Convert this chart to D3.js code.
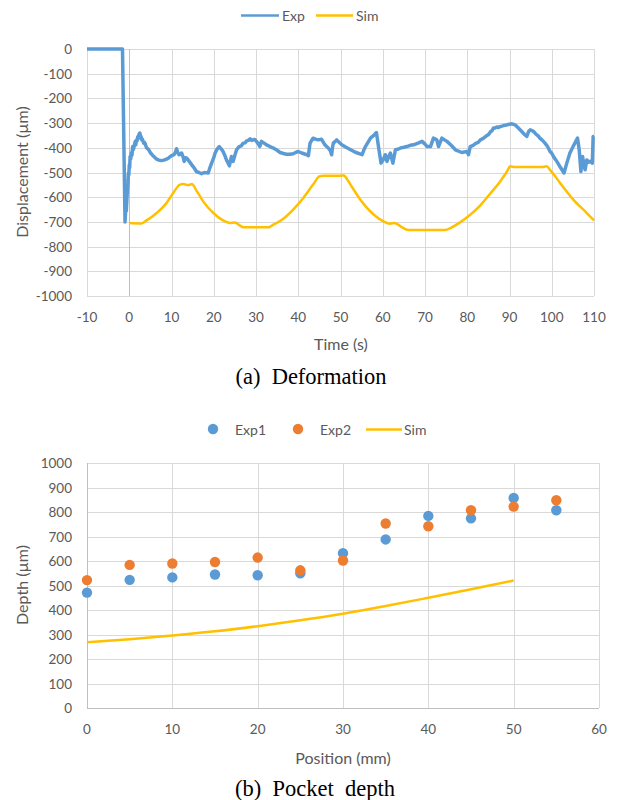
<!DOCTYPE html>
<html>
<head>
<meta charset="utf-8">
<script src="https://cdn.jsdelivr.net/npm/d3@7"></script>
<style>
  html, body { margin: 0; padding: 0; background: #fff; }
  svg { display: block; }
</style>
</head>
<body>
<svg id="fig" width="617" height="800"></svg>
<script>
// ---- (a) Deformation: measured and simulated displacement over time ----
const expTime = [-10, -1.6, -1.0, -0.8, -0.7, -0.6, -0.5, -0.4, -0.3, -0.2, -0.1, 0, 0.1, 0.2, 0.35, 0.5, 0.65, 0.8, 0.95, 1.1, 1.25, 1.4, 1.55, 1.7, 1.85, 2.0, 2.15, 2.3, 2.5, 2.65, 2.8, 2.95, 3.1, 3.25, 3.4, 3.6, 3.8, 4.1, 4.5, 5.0, 5.5, 6.0, 6.5, 7.0, 7.6, 8.2, 8.8, 9.4, 10.0, 10.6, 11.0, 11.2, 11.5, 11.8, 12.4, 12.8, 13.0, 13.3, 13.6, 14.2, 14.8, 15.4, 15.9, 16.5, 17.1, 17.8, 18.7, 19.1, 19.5, 20.0, 20.3, 20.8, 21.3, 21.8, 22.2, 22.6, 23.0, 23.4, 23.7, 24.0, 24.2, 24.4, 24.6, 25.0, 25.4, 26.0, 26.5, 27.0, 27.4, 27.8, 28.2, 28.6, 29.0, 29.3, 29.7, 30.1, 30.6, 30.9, 31.3, 32.0, 32.5, 33.3, 34.1, 35.0, 35.7, 36.5, 37.2, 38.0, 38.8, 39.5, 40.0, 40.8, 41.5, 42.0, 42.4, 42.6, 42.8, 43.5, 44.1, 44.7, 45.5, 46.3, 47.1, 47.6, 47.9, 48.1, 48.3, 49.1, 50.3, 51.3, 52.4, 53.5, 55.1, 55.5, 55.9, 56.5, 57.1, 58.0, 58.5, 59.1, 59.6, 60.1, 60.6, 61.0, 61.4, 61.8, 62.4, 63.0, 63.6, 64.2, 65.0, 65.7, 66.5, 67.3, 68.5, 69.3, 70.0, 70.5, 71.3, 72.0, 72.8, 73.2, 74.0, 75.2, 76.2, 77.2, 78.7, 79.9, 80.3, 80.7, 81.4, 82.0, 82.6, 83.1, 83.8, 84.6, 85.1, 85.5, 85.9, 86.2, 86.6, 87.0, 87.4, 87.8, 88.2, 88.6, 89.0, 89.4, 90.0, 90.6, 91.3, 92.1, 92.9, 93.5, 94.1, 94.5, 94.9, 95.3, 95.7, 96.1, 96.5, 96.9, 97.2, 97.8, 98.4, 99.0, 99.6, 100.0, 100.4, 100.8, 101.2, 102.0, 102.9, 103.6, 104.3, 105.2, 106.1, 106.5, 106.9, 107.3, 107.6, 107.9, 108.3, 108.7, 109.1, 109.6, 109.8, 110];
const expDisp = [0, 0, -700, -640, -655, -623, -590, -560, -540, -502, -510, -470, -480, -435, -445, -420, -430, -395, -408, -400, -385, -375, -388, -368, -372, -355, -362, -345, -340, -352, -355, -368, -365, -372, -381, -378, -385, -401, -405, -420, -430, -438, -446, -450, -452, -450, -446, -440, -432, -428, -415, -404, -420, -428, -421, -440, -455, -440, -442, -455, -469, -482, -496, -500, -505, -500, -502, -480, -462, -440, -422, -405, -395, -405, -415, -430, -449, -462, -473, -450, -435, -445, -455, -430, -408, -395, -392, -381, -380, -372, -370, -364, -370, -368, -366, -374, -385, -395, -374, -382, -388, -395, -401, -410, -419, -423, -426, -426, -424, -418, -415, -421, -425, -428, -432, -405, -381, -361, -365, -368, -365, -388, -401, -412, -428, -400, -381, -368, -388, -398, -408, -418, -428, -410, -395, -378, -361, -348, -338, -408, -462, -449, -428, -455, -435, -421, -462, -408, -406, -401, -398, -395, -390, -388, -380, -374, -385, -395, -395, -361, -368, -395, -361, -374, -390, -408, -419, -415, -428, -395, -390, -382, -378, -368, -362, -351, -345, -335, -330, -320, -320, -316, -318, -314, -312, -310, -309, -307, -305, -303, -307, -320, -334, -345, -354, -335, -327, -330, -334, -342, -348, -354, -361, -370, -381, -395, -415, -422, -435, -445, -455, -478, -502, -460, -421, -390, -361, -408, -496, -435, -470, -489, -449, -458, -455, -462, -354, -354];

const simTime = [0, 2.9, 4.1, 6.5, 8.8, 10.4, 12.0, 12.8, 14.0, 14.8, 16.0, 17.5, 19.9, 22.2, 23.8, 25.0, 25.8, 27.0, 29.3, 32.9, 34.1, 36.4, 38.8, 41.2, 43.5, 45.0, 45.9, 49.9, 50.8, 51.4, 52.4, 54.7, 57.9, 60.2, 61.7, 62.8, 64.2, 66.1, 74.8, 76.0, 78.3, 80.7, 83.1, 85.4, 87.8, 89.4, 90.2, 91.3, 97.6, 98.8, 99.6, 102.0, 105.1, 108.3, 110];
const simDisp = [-704, -706, -694, -664, -624, -583, -549, -547, -551, -547, -576, -617, -664, -694, -704, -702, -710, -722, -722, -722, -711, -688, -650, -603, -549, -516, -513, -513, -512, -523, -550, -610, -671, -698, -707, -704, -718, -733, -733, -725, -702, -671, -633, -586, -536, -496, -475, -478, -478, -475, -489, -543, -610, -664, -694];

const timeTicks = [-10, 0, 10, 20, 30, 40, 50, 60, 70, 80, 90, 100, 110];
const dispTicks = [0, -100, -200, -300, -400, -500, -600, -700, -800, -900, -1000];

// ---- (b) Pocket depth along position ----
const positions = [0, 5, 10, 15, 20, 25, 30, 35, 40, 45, 50, 55];
const exp1Depth = [471, 523, 533, 545, 542, 550, 632, 688, 784, 774, 857, 807];
const exp2Depth = [522, 584, 590, 596, 614, 562, 602, 753, 742, 807, 822, 848];
const simPos = [0, 5, 10, 15, 20, 25, 30, 35, 40, 45, 50];
const simDepth = [268, 281, 296, 313, 334, 358, 385, 416, 450, 485, 520];

const posTicks = [0, 10, 20, 30, 40, 50, 60];
const depthTicks = [0, 100, 200, 300, 400, 500, 600, 700, 800, 900, 1000];

const C = { blue: "#5b9bd5", orange: "#ed7d31", yellow: "#ffc000", grid: "#d9d9d9", axis: "#bfbfbf", text: "#595959" };
const uiFont = "Lato, 'Open Sans', sans-serif";
const capFont = "'Liberation Serif', 'Times New Roman', serif";
const tickSize = 13.5;

const svg = d3.select("#fig");

function gridAndAxes(g, x, y, xTicks, yTicks, opts) {
  const [x0, x1] = x.range();
  const [yb, yt] = y.range();
  // horizontal gridlines
  g.append("g").selectAll("line").data(yTicks).join("line")
    .attr("x1", x0).attr("x2", x1)
    .attr("y1", d => Math.round(y(d)) + 0.5).attr("y2", d => Math.round(y(d)) + 0.5)
    .attr("stroke", C.grid).attr("stroke-width", 1);
  // vertical gridlines
  g.append("g").selectAll("line").data(xTicks).join("line")
    .attr("x1", d => Math.round(x(d)) + 0.5).attr("x2", d => Math.round(x(d)) + 0.5)
    .attr("y1", yt).attr("y2", yb)
    .attr("stroke", d => d === opts.vAxisAt ? C.axis : C.grid).attr("stroke-width", 1);
  if (opts.hAxisAt !== undefined) {
    g.append("line")
      .attr("x1", x0).attr("x2", x1)
      .attr("y1", Math.round(y(opts.hAxisAt)) + 0.5).attr("y2", Math.round(y(opts.hAxisAt)) + 0.5)
      .attr("stroke", C.axis);
  }
  // tick labels
  g.append("g").selectAll("text").data(yTicks).join("text")
    .attr("x", x0 - 15).attr("y", d => y(d))
    .attr("text-anchor", "end").attr("dominant-baseline", "central")
    .attr("font-family", uiFont).attr("font-size", tickSize).attr("fill", C.text)
    .text(d => d);
  g.append("g").selectAll("text").data(xTicks).join("text")
    .attr("x", d => x(d)).attr("y", yb + 21)
    .attr("text-anchor", "middle").attr("dominant-baseline", "central")
    .attr("font-family", uiFont).attr("font-size", tickSize).attr("fill", C.text)
    .text(d => d);
}

function label(x, y, text, opts = {}) {
  const t = svg.append("text")
    .attr("x", x).attr("y", y)
    .attr("text-anchor", "middle").attr("dominant-baseline", "central")
    .attr("font-family", opts.font || uiFont)
    .attr("font-size", opts.size || 16)
    .attr("fill", opts.fill || C.text)
    .attr("xml:space", "preserve")
    .style("white-space", "pre")
    .text(text);
  if (opts.rotate) t.attr("transform", `rotate(-90, ${x}, ${y})`);
  return t;
}

function legendText(g, x, y, text) {
  g.append("text").attr("x", x).attr("y", y).attr("dominant-baseline", "central")
    .attr("font-family", uiFont).attr("font-size", 14).attr("fill", C.text).text(text);
}

// ================= Chart (a) =================
{
  const x = d3.scaleLinear().domain([-10, 110]).range([87, 594]);
  const y = d3.scaleLinear().domain([-1000, 0]).range([296, 49]);
  const g = svg.append("g");
  gridAndAxes(g, x, y, timeTicks, dispTicks, { vAxisAt: 0 });

  const line = d3.line().x(d => x(d[0])).y(d => y(d[1]));
  const simLine = d3.line().x(d => x(d[0])).y(d => y(d[1])).curve(d3.curveMonotoneX);

  g.append("path")
    .datum(simTime.map((t, i) => [t, simDisp[i]]))
    .attr("d", simLine).attr("fill", "none")
    .attr("stroke", C.yellow).attr("stroke-width", 2.5).attr("stroke-linejoin", "round");
  g.append("path")
    .datum(expTime.map((t, i) => [t, expDisp[i]]))
    .attr("d", line).attr("fill", "none")
    .attr("stroke", C.blue).attr("stroke-width", 3.5).attr("stroke-linejoin", "round");

  // legend
  const lg = svg.append("g");
  lg.append("line").attr("x1", 241).attr("x2", 279).attr("y1", 15.5).attr("y2", 15.5)
    .attr("stroke", C.blue).attr("stroke-width", 2.5);
  legendText(lg, 282, 15, "Exp");
  lg.append("line").attr("x1", 316).attr("x2", 353).attr("y1", 15.5).attr("y2", 15.5)
    .attr("stroke", C.yellow).attr("stroke-width", 2.5);
  legendText(lg, 356, 15, "Sim");

  label(21, 172, "Displacement (µm)", { rotate: true });
  label(341, 343, "Time (s)");
  label(311, 376, "(a)  Deformation", { font: capFont, size: 22.5, fill: "#000" });
}

// ================= Chart (b) =================
{
  const x = d3.scaleLinear().domain([0, 60]).range([87, 599]);
  const y = d3.scaleLinear().domain([0, 1000]).range([708, 463]);
  const g = svg.append("g");
  gridAndAxes(g, x, y, posTicks, depthTicks, { vAxisAt: 0, hAxisAt: 0 });

  const simLine = d3.line().x(d => x(d[0])).y(d => y(d[1])).curve(d3.curveMonotoneX);
  g.append("path")
    .datum(simPos.map((p, i) => [p, simDepth[i]]))
    .attr("d", simLine).attr("fill", "none")
    .attr("stroke", C.yellow).attr("stroke-width", 2.5);

  g.append("g").selectAll("circle").data(positions).join("circle")
    .attr("cx", d => x(d)).attr("cy", (d, i) => y(exp1Depth[i])).attr("r", 5.2)
    .attr("fill", C.blue);
  g.append("g").selectAll("circle").data(positions).join("circle")
    .attr("cx", d => x(d)).attr("cy", (d, i) => y(exp2Depth[i])).attr("r", 5.2)
    .attr("fill", C.orange);

  // legend
  const lg = svg.append("g");
  lg.append("circle").attr("cx", 213).attr("cy", 429).attr("r", 5.2).attr("fill", C.blue);
  legendText(lg, 235, 429, "Exp1");
  lg.append("circle").attr("cx", 298).attr("cy", 429).attr("r", 5.2).attr("fill", C.orange);
  legendText(lg, 320, 429, "Exp2");
  lg.append("line").attr("x1", 366).attr("x2", 402).attr("y1", 429.5).attr("y2", 429.5)
    .attr("stroke", C.yellow).attr("stroke-width", 2.5);
  legendText(lg, 404, 429, "Sim");

  label(21, 585, "Depth (µm)", { rotate: true });
  label(343, 757, "Position (mm)");
  label(315, 788, "(b)  Pocket  depth", { font: capFont, size: 22.5, fill: "#000" });
}
</script>
</body>
</html>
